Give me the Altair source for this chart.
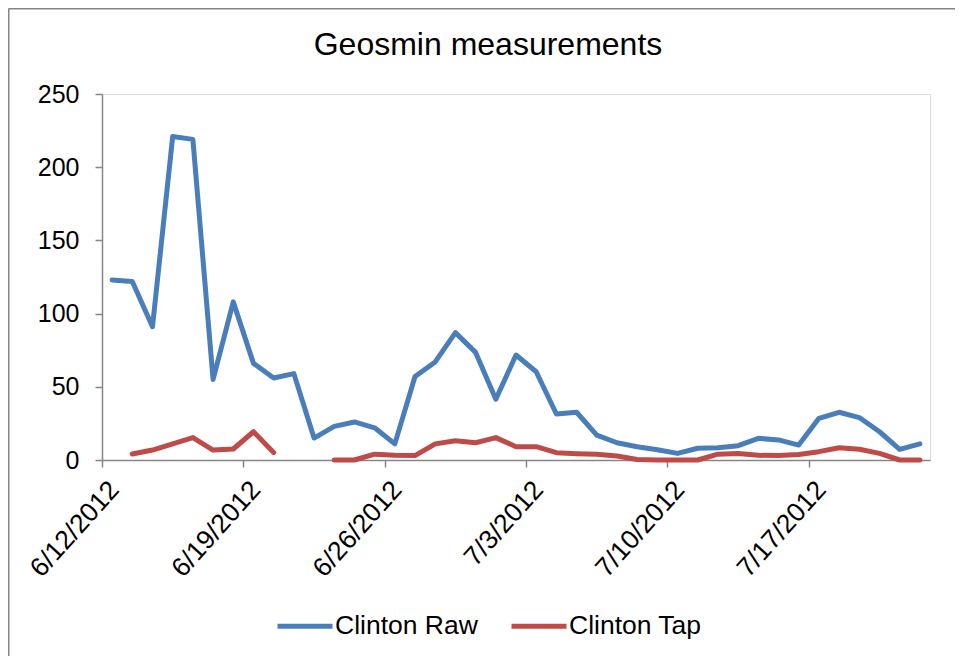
import altair as alt
import pandas as pd

days = pd.date_range("2012-06-12 12:00", periods=41, freq="D")
date_str = [d.strftime("%Y-%m-%dT%H:%M:%SZ") for d in days]

clinton_raw = [123, 122, 91, 221, 219, 55, 108, 66, 56, 59, 15, 23, 26, 22, 11,
               57, 67, 87, 73.5, 41.5, 71.7, 60.3, 31.4, 32.6, 17, 11.8, 9.1, 7, 4.5,
               8, 8.4, 9.8, 14.8, 13.7, 10.2, 28.5, 32.6, 29, 19.3, 7.3, 11]
clinton_tap = [None, 4.1, 6.8, 11, 15.3, 6.8, 7.5, 19.3, 5.2, None, None, 0, 0, 4, 3.2,
               3, 11, 13.2, 11.8, 15.3, 9.1, 9.1, 5, 4.3, 3.9, 2.7, 0.4, 0, 0,
               0, 4, 4.5, 3.2, 3, 3.7, 5.7, 8.4, 7.3, 4.5, 0, 0]
series_names = ["Clinton Raw", "Clinton Tap"]
series_colors = ["#4A7EBB", "#BE4B48"]
tick_dates = ["2012-06-12", "2012-06-19", "2012-06-26", "2012-07-03", "2012-07-10", "2012-07-17"]
y_ticks = [0, 50, 100, 150, 200, 250]
title_text = "Geosmin measurements"

rows = []
for name, vals in zip(series_names, [clinton_raw, clinton_tap]):
    seg = 0
    prev_none = True
    for d, v in zip(date_str, vals):
        if v is None:
            prev_none = True
            continue
        if prev_none:
            seg += 1
            prev_none = False
        rows.append({"date": d, "value": v, "series": name, "seg": f"{name}-{seg}"})
df = pd.DataFrame(rows)
one = pd.DataFrame({"t": [title_text]})

FONT = "Liberation Sans"
GRAY = "#868686"

tick_vals = [alt.DateTime(year=int(t[:4]), month=int(t[5:7]), date=int(t[8:]), utc=True) for t in tick_dates]

lines = alt.Chart(df).mark_line(strokeWidth=5, strokeCap="round", strokeJoin="round").encode(
    x=alt.X("date:T", scale=alt.Scale(type="utc",
                                      domain=[alt.DateTime(year=2012, month=6, date=12, utc=True),
                                              alt.DateTime(year=2012, month=7, date=23, utc=True)]),
            axis=alt.Axis(title=None, values=tick_vals,
                          labelExpr="utcFormat(datum.value, '%-m/%-d/%Y')",
                          labelAngle=312, labelAlign="right", labelBaseline="middle",
                          labelOffset=12, labelPadding=18, labelFontSize=26.5, labelFont=FONT,
                          labelColor="#000000", tickSize=7, tickColor=GRAY, domainColor=GRAY,
                          domainWidth=1.5, tickWidth=1.5, grid=False, labelOverlap=False,
                          labelBound=False, labelFlush=False)),
    y=alt.Y("value:Q", scale=alt.Scale(domain=[0, 250], nice=False),
            axis=alt.Axis(title=None, values=y_ticks, labelFontSize=25, labelFont=FONT,
                          labelColor="#000000", tickSize=7, tickColor=GRAY, domainColor=GRAY,
                          domainWidth=1.5, tickWidth=1.5, labelPadding=16, grid=False)),
    color=alt.Color("series:N", scale=alt.Scale(domain=series_names, range=series_colors),
                    legend=alt.Legend(title=None, orient="none", legendX=173, legendY=502,
                                      direction="horizontal", symbolType="stroke",
                                      symbolSize=3025, symbolStrokeWidth=5,
                                      labelFontSize=26.5, labelFont=FONT, labelColor="#000000",
                                      labelOffset=0, columnPadding=23, padding=0)),
    detail="seg:N",
)

title = alt.Chart(one).mark_text(font=FONT, fontSize=32, color="#000000",
                                 align="center", baseline="alphabetic").encode(
    text="t:N", x=alt.value(386), y=alt.value(-39.5))

border_left = alt.Chart(one).mark_rule(color=GRAY, strokeWidth=2).encode(
    x=alt.value(-93.5), y=alt.value(-85.5), y2=alt.value(562))
border_top = alt.Chart(one).mark_rule(color=GRAY, strokeWidth=2).encode(
    x=alt.value(-93.5), x2=alt.value(860), y=alt.value(-85.5))

chart = alt.layer(border_left, border_top, title, lines).properties(
    width=828, height=366,
    padding={"left": 94, "top": 86, "right": 25, "bottom": 196},
    autosize=alt.AutoSizeParams(type="none"),
).configure_view(stroke=None).configure(background="white")

chart.save("out.html", embed_options={"renderer": "svg", "actions": False})
